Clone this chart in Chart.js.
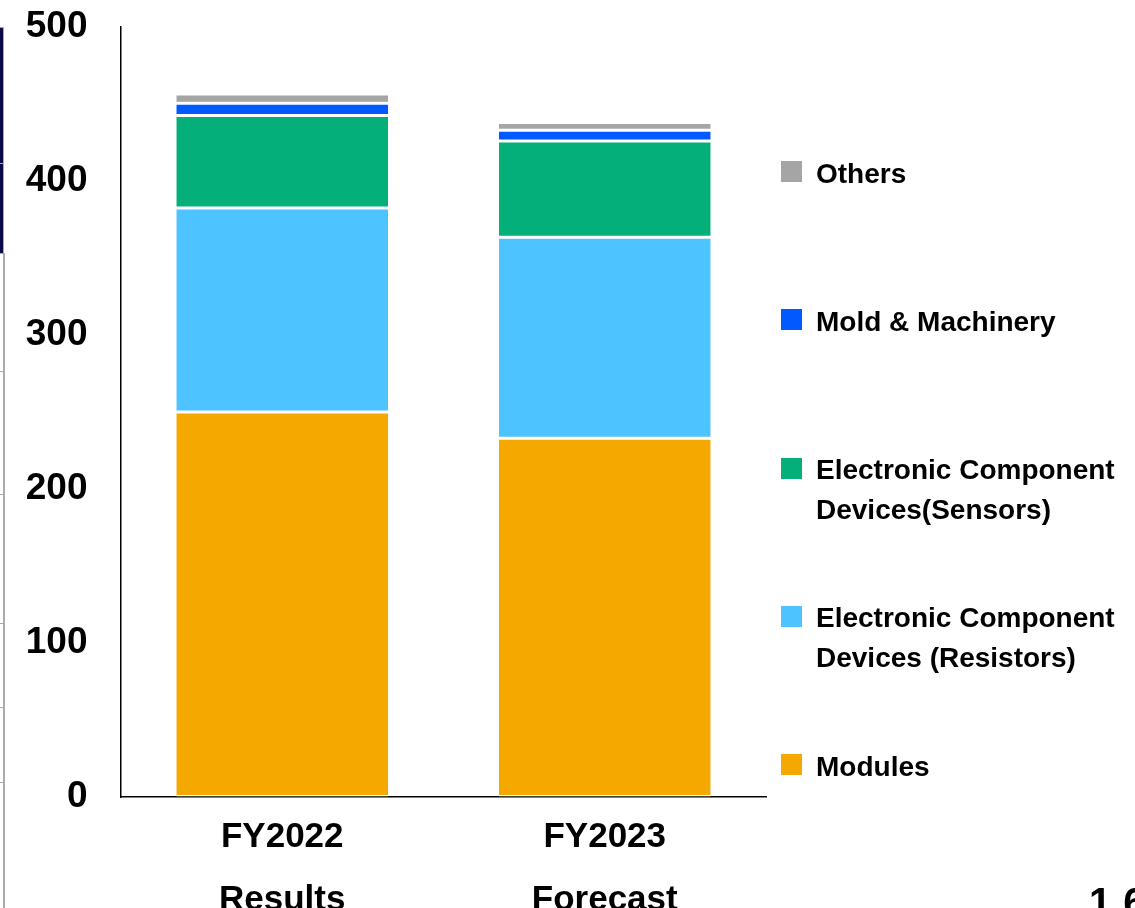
<!DOCTYPE html>
<html>
<head>
<meta charset="utf-8">
<script src="https://cdn.jsdelivr.net/npm/chart.js@4.4.0/dist/chart.umd.min.js"></script>
<style>
  html, body { margin: 0; padding: 0; background: #fff; overflow: hidden; }
  #wrap { position: relative; width: 1135px; height: 908px; overflow: hidden; }
  #salesChart { position: absolute; left: 0; top: 0; }
  #legend {
    position: absolute; left: 781px; top: 153.5px; margin: 0; padding: 0; list-style: none;
    font: bold 28px "Liberation Sans", Arial, sans-serif; line-height: 40px; color: #000;
  }
  #legend li { display: flex; align-items: flex-start; height: 148.3px; }
  #legend .swatch { flex: none; width: 21px; height: 21px; margin-top: 7.5px; margin-right: 14px; }
  #legend .label { white-space: pre-line; }
  /* slide edge showing at the left border */
  .navy { position: absolute; left: 0; width: 3px; background: #0a0a4a; border: 1px solid #aaa; border-left: 0; }
  .rail { position: absolute; left: 3px; top: 253px; width: 1.5px; height: 660px; background: #aaa; }
  .notch { position: absolute; left: 0; width: 4px; height: 1px; background: #aaa; }
  .page-no { position: absolute; left: 1089px; top: 882px; font: bold 40px "Liberation Sans", Arial, sans-serif; line-height: 1; letter-spacing: 12px; color: #000; }
</style>
</head>
<body>
<div id="wrap">
  <canvas id="salesChart" width="1135" height="908"></canvas>
  <ul id="legend"></ul>
  <div class="navy" style="top:27px;height:135px"></div>
  <div class="navy" style="top:163px;height:89px"></div>
  <div class="rail"></div>
  <div class="notch" style="top:371px"></div>
  <div class="notch" style="top:494px"></div>
  <div class="notch" style="top:623px"></div>
  <div class="notch" style="top:707px"></div>
  <div class="notch" style="top:782px"></div>
  <div class="page-no">16</div>
</div>
<script>
// Net sales by segment (100 million yen)
const categories = [["FY2022", "Results"], ["FY2023", "Forecast"]]
const segmentNames = [
  "Modules",
  "Electronic Component\nDevices (Resistors)",
  "Electronic Component\nDevices(Sensors)",
  "Mold & Machinery",
  "Others",
]
const segmentColors = ["#F5A800", "#4DC3FF", "#04AF7A", "#005AFF", "#A5A5A5"]

const modules = [250, 233]
const resistors = [132.5, 130.5]
const sensors = [60, 62.5]
const moldMachinery = [8, 7]
const others = [6, 5]

const yTicks = [0, 100, 200, 300, 400, 500]

const FONT = "'Liberation Sans', Arial, sans-serif"

const seriesValues = [modules, resistors, sensors, moldMachinery, others]

const datasets = seriesValues.map((values, i) => ({
  label: segmentNames[i],
  data: values,
  backgroundColor: segmentColors[i],
  borderColor: "#ffffff",
  borderWidth: { top: 1.5, bottom: 1.5, left: 0, right: 0 },
  borderSkipped: false,
  categoryPercentage: 1,
  barPercentage: 0.657,
}))

const chart = new Chart(document.getElementById("salesChart").getContext("2d"), {
  type: "bar",
  data: {
    labels: categories,
    datasets: datasets,
  },
  options: {
    responsive: false,
    animation: false,
    layout: {
      // room on the right for the html legend
      padding: { top: 27, right: 369, bottom: 0, left: 0 },
    },
    scales: {
      x: {
        stacked: true,
        grid: { color: "transparent", drawTicks: false },
        border: { display: true, color: "#000", width: 1.5 },
        ticks: {
          color: "#000",
          padding: 8.5,
          font: { family: FONT, size: 35, weight: "bold", lineHeight: 1.8 },
        },
        afterFit: (scale) => {
          scale.height = 111
        },
      },
      y: {
        stacked: true,
        min: yTicks[0],
        max: yTicks[yTicks.length - 1],
        grid: { color: "transparent", tickColor: "transparent", drawTicks: true, tickLength: 33.5 },
        border: { display: true, color: "#000", width: 1.5 },
        ticks: {
          stepSize: yTicks[1] - yTicks[0],
          color: "#000",
          padding: 0,
          font: { family: FONT, size: 37, weight: "bold" },
        },
        afterFit: (scale) => {
          scale.width = 121
        },
      },
    },
    plugins: {
      tooltip: { enabled: false },
      legend: { display: false },
    },
  },
})

// legend list, top entry = top of the stack
const legendList = document.getElementById("legend")
Chart.defaults.plugins.legend.labels
  .generateLabels(chart)
  .reverse()
  .forEach((item) => {
    const li = document.createElement("li")
    const swatch = document.createElement("span")
    swatch.className = "swatch"
    swatch.style.background = item.fillStyle
    const label = document.createElement("span")
    label.className = "label"
    label.textContent = item.text
    li.appendChild(swatch)
    li.appendChild(label)
    legendList.appendChild(li)
  })
</script>
</body>
</html>
